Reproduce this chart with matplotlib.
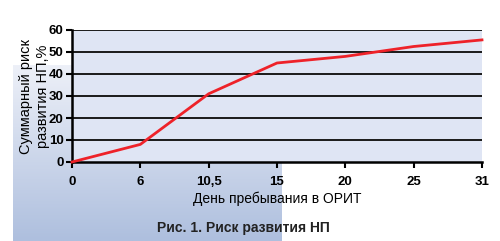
import numpy as np
import matplotlib
matplotlib.use("Agg")
import matplotlib.pyplot as plt
from matplotlib.colors import LinearSegmentedColormap

days = ["0", "6", "10,5", "15", "20", "25", "31"]
risk = [0, 8, 31, 45, 48, 52.5, 55.5]
yticks = [0, 10, 20, 30, 40, 50, 60]

plt.rcParams['font.family'] = ['Liberation Sans', 'DejaVu Sans']

W, H = 500, 241
fig = plt.figure(figsize=(W/100, H/100), dpi=100)
fig.patch.set_facecolor('white')

# gradient background panel
bg = fig.add_axes([13/W, 0, (282-13)/W, (241-65)/H], zorder=0)
grad = np.linspace(0, 1, 100).reshape(-1, 1)
cmap = LinearSegmentedColormap.from_list('g', ['#edf0f8', '#aebfde'])
bg.imshow(grad, aspect='auto', cmap=cmap, extent=[0, 1, 0, 1], origin='upper')
bg.axis('off')

ax = fig.add_axes([72/W, 1-162/H, (482-72)/W, (162-30)/H], zorder=1)
ax.set_facecolor('#dfe5f4')
x = np.arange(len(days))
ax.plot(x, risk, color='#ee2229', lw=2, zorder=3, clip_on=False)
ax.set_xlim(0, len(days)-1)
ax.set_ylim(0, 60)
ax.set_xticks(x)
ax.set_xticklabels(days, fontweight='bold', fontsize=9.5)
ax.set_yticks(yticks)
ax.set_yticklabels([str(v) for v in yticks], fontweight='bold', fontsize=9.5)
for v in yticks[1:]:
    ax.axhline(v, color='#1a1a1a', lw=1.4, zorder=2)
for s in ['top', 'right']:
    ax.spines[s].set_visible(False)
ax.spines['left'].set_linewidth(1.8)
ax.spines['bottom'].set_linewidth(1.8)
ax.tick_params(axis='x', direction='out', length=4, width=1.5, pad=6)
ax.tick_params(axis='y', direction='out', length=4, width=1.5, pad=2)
ax.set_xlabel("День пребывания в ОРИТ", fontsize=10, labelpad=3)
ax.set_ylabel("Суммарный риск\nразвития НП,%", fontsize=10.5, labelpad=-1, linespacing=1.25)

fig.text(243/W, 1-228/H, "Рис. 1. Риск развития НП", fontsize=10, fontweight='bold',
         ha='center', va='center', color='#222222')

fig.savefig("out.png", dpi=100)
